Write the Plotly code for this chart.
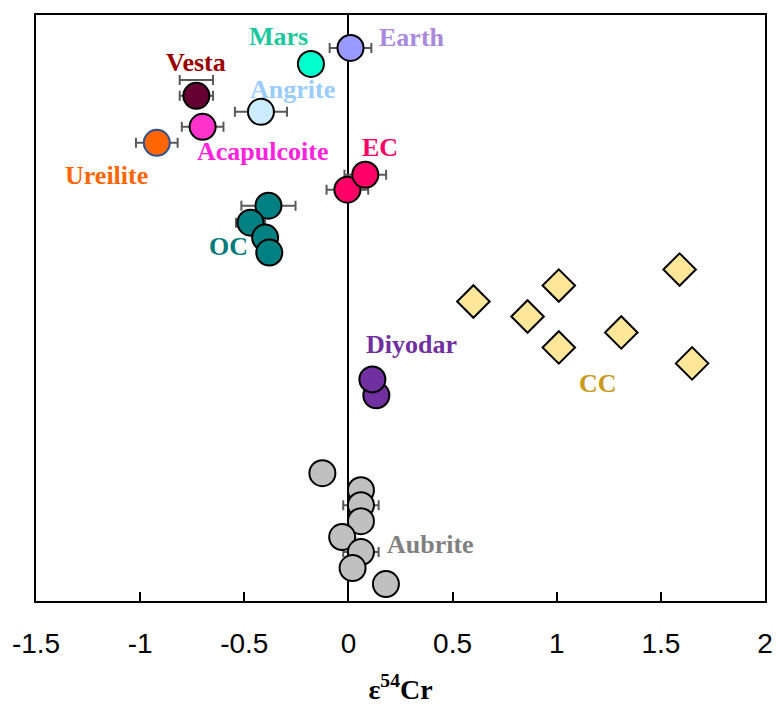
import plotly.graph_objects as go

# ---- data (x = ε54Cr, y = arbitrary vertical position) ----
earth_x = [0.01]; earth_y = [554]; earth_err = [0.10]
mars_x = [-0.18]; mars_y = [538]
vesta_x = [-0.73, -0.73]; vesta_y = [522, 506]; vesta_err = [0.08, 0.08]
angrite_x = [-0.42]; angrite_y = [490]; angrite_err = [0.125]
acap_x = [-0.70]; acap_y = [475]; acap_err = [0.10]
ureilite_x = [-0.92]; ureilite_y = [459]; ureilite_err = [0.10]
ec_x = [-0.005, 0.081]; ec_y = [412, 427]; ec_err = [0.10, 0.10]
oc_x = [-0.384, -0.47, -0.40, -0.38]; oc_y = [396, 379, 364, 349]; oc_err = [0.13, 0.07, 0.0, 0.0]
diyodar_x = [0.134, 0.115]; diyodar_y = [206, 222]
cc_x = [0.60, 1.01, 0.86, 1.01, 1.31, 1.59, 1.65]
cc_y = [300, 316, 285, 254, 269, 332, 238]
aub_x = [-0.125, 0.06, 0.06, 0.06, -0.03, 0.06, 0.02, 0.18]
aub_y = [128, 111, 96, 80, 64, 49, 33, 17]
aub_err = [0.0, 0.0, 0.085, 0.0, 0.0, 0.085, 0.0, 0.0]

x_ticks = [-1.5, -1, -0.5, 0, 0.5, 1, 1.5, 2]
x_ticklabels = ["-1.5", "-1", "-0.5", "0", "0.5", "1", "1.5", "2"]

labels = ["Mars", "Earth", "Vesta", "Angrite", "Acapulcoite", "Ureilite",
          "EC", "OC", "Diyodar", "CC", "Aubrite"]
label_x = [-0.336, 0.307, -0.733, -0.268, -0.412, -1.16, 0.153, -0.575, 0.302, 1.198, 0.393]
label_y = [565, 564, 539, 512, 450, 426, 454, 355, 257, 218, 57]
label_colors = ["#1BC89E", "#AA88DD", "#990000", "#99CCFF", "#FF22DD", "#FF6600",
                "#FF0066", "#007A7A", "#7030A0", "#C99A1A", "#808080"]

ERR_COLOR = "#595959"

fig = go.Figure()

def add_circles(xs, ys, errs, fill, line="black", sizes=26):
    kw = {}
    if errs is not None:
        kw["error_x"] = dict(type="data", array=errs, visible=True,
                             color=ERR_COLOR, thickness=2, width=5)
    fig.add_trace(go.Scatter(
        x=xs, y=ys, mode="markers",
        marker=dict(symbol="circle", size=sizes, color=fill, opacity=1,
                    line=dict(color=line, width=2)),
        showlegend=False, hoverinfo="x", **kw))

add_circles(earth_x, earth_y, earth_err, "#9999FF")
add_circles(mars_x, mars_y, None, "#00FFCC")
add_circles(vesta_x, vesta_y, vesta_err, "#660033", sizes=[0, 26])
add_circles(angrite_x, angrite_y, angrite_err, "#CCECFF")
add_circles(acap_x, acap_y, acap_err, "#FF33CC")
add_circles(ureilite_x, ureilite_y, ureilite_err, "#FF6600", line="#2F528F")
add_circles(ec_x, ec_y, ec_err, "#FF0066")
add_circles(oc_x, oc_y, oc_err, "#008080")
add_circles(diyodar_x, diyodar_y, None, "#7030A0")
add_circles(aub_x, aub_y, aub_err, "#C0C0C0")

fig.add_trace(go.Scatter(
    x=cc_x, y=cc_y, mode="markers",
    marker=dict(symbol="diamond", size=25, color="#FFE699",
                line=dict(color="black", width=2)),
    showlegend=False, hoverinfo="x"))

for t, lx, ly, c in zip(labels, label_x, label_y, label_colors):
    fig.add_annotation(x=lx, y=ly, text=f"<b>{t}</b>", showarrow=False,
                       font=dict(family="Liberation Serif", size=26, color=c),
                       xanchor="center", yanchor="middle")

fig.update_layout(
    width=776, height=711,
    margin=dict(l=36, r=9, t=15, b=110),
    paper_bgcolor="white", plot_bgcolor="white",
    xaxis=dict(range=[-1.5, 2], tickvals=x_ticks, ticktext=x_ticklabels,
               ticks="inside", ticklen=9, tickwidth=2, tickcolor="black",
               ticklabelstandoff=16, automargin=False,
               showline=True, linecolor="black", linewidth=2, mirror=True,
               showgrid=False, zeroline=True, zerolinecolor="black", zerolinewidth=2,
               tickfont=dict(family="Liberation Sans", size=28, color="black"),
               title=dict(text="<b>ε<sup>54</sup>Cr</b>",
                          font=dict(family="Liberation Serif", size=28, color="black"),
                          standoff=22)),
    yaxis=dict(range=[0, 587], showticklabels=False, ticks="",
               showline=True, linecolor="black", linewidth=2, mirror=True,
               showgrid=False, zeroline=False),
)

fig.write_html("out.html")
